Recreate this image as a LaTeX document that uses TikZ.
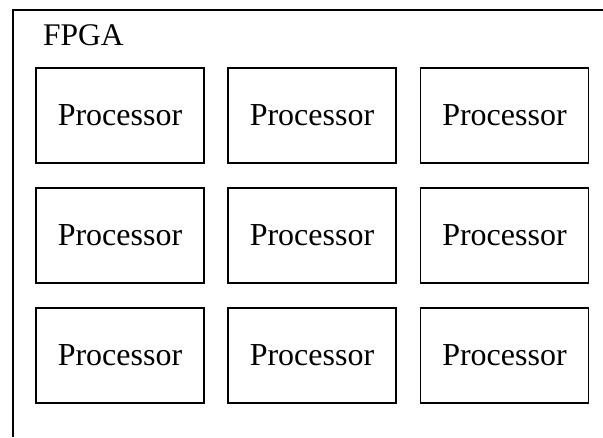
\documentclass[tikz,border=0pt]{standalone}
\usepackage{fontspec}
\setmainfont{Liberation Serif}
\begin{document}
\begin{tikzpicture}[x=1pt,y=-1pt,
  procbox/.style={draw,line width=1.7pt,minimum width=168pt,minimum height=95pt,inner sep=0pt,font=\fontsize{32}{38}\selectfont},
  lbl/.style={font=\fontsize{31.5}{38}\selectfont,inner sep=0pt}]
\useasboundingbox (0,0) rectangle (603,437);
\coordinate (ob) at (13,437);
\coordinate (ot) at (13,10);
\coordinate (or) at (603,10);
\draw[line width=1.7pt] (ob) -- (ot) -- (or);
\node[lbl,anchor=base west] (fpga) at (43,45) {FPGA};
\foreach \r/\y in {1/115.5,2/235.5,3/355.5}{
  \foreach \c/\x in {1/120,2/312,3/504.5}{
    \node[procbox] (p\r\c) at (\x,\y) {Processor};
  }
}
\end{tikzpicture}
\end{document}
